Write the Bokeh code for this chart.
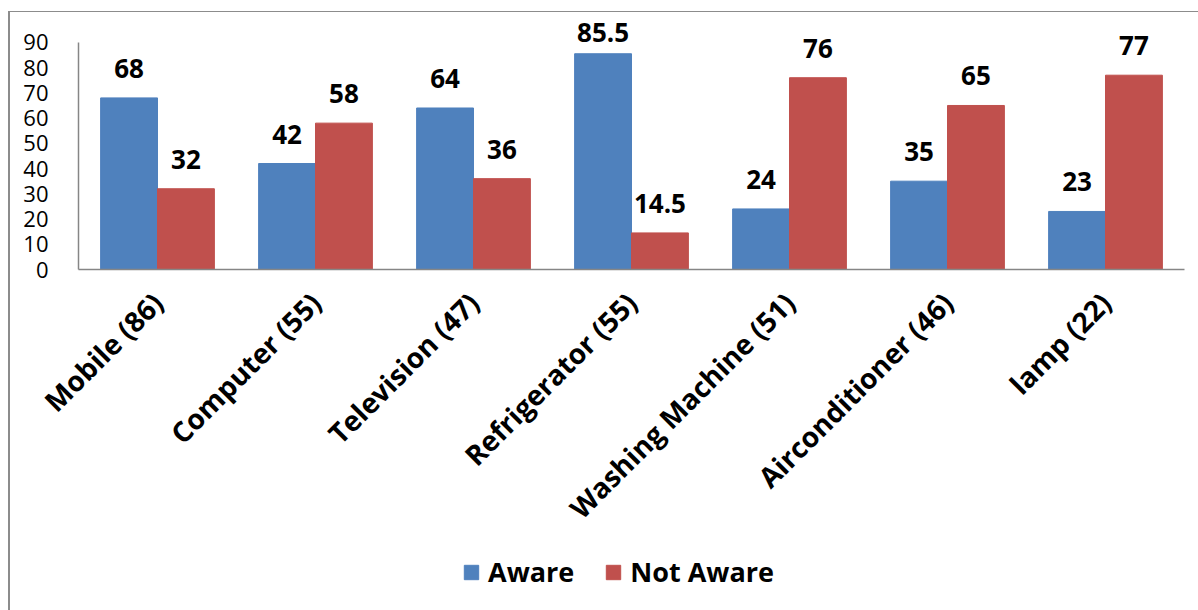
import math
from bokeh.plotting import figure
from bokeh.layouts import column
from bokeh.models import ColumnDataSource, FactorRange, Range1d, LabelSet, Legend, LegendItem, FixedTicker
from bokeh.transform import dodge
from bokeh.core.properties import value
from bokeh.embed import file_html
from bokeh.resources import INLINE

categories = ["Mobile (86)", "Computer (55)", "Television (47)", "Refrigerator (55)",
              "Washing Machine (51)", "Airconditioner (46)", "lamp (22)"]
aware = [68, 42, 64, 85.5, 24, 35, 23]
not_aware = [32, 58, 36, 14.5, 76, 65, 77]
y_ticks = [0, 10, 20, 30, 40, 50, 60, 70, 80, 90]
series_names = ["Aware", "Not Aware"]

BLUE = "#4F81BD"
RED = "#C0504D"
FONT = "Open Sans"

# frame: 0 -> y=270, 90 -> y=42 in window; frame top extended to y=12 so labels above 90 fit
PX_PER_UNIT = 228 / 90
y_top = 90 + 30 / PX_PER_UNIT
LABEL_CEIL = 227  # highest label bottom, px above the x axis (labels are kept inside the chart)


def label_offsets(vals):
    return [min(20, LABEL_CEIL - v * PX_PER_UNIT + 1) for v in vals]


src = ColumnDataSource(dict(
    cat=categories,
    aware=aware,
    not_aware=not_aware,
    aware_txt=[f"{v:g}" for v in aware],
    not_aware_txt=[f"{v:g}" for v in not_aware],
    aware_off=label_offsets(aware),
    not_aware_off=label_offsets(not_aware),
))

p = figure(x_range=FactorRange(*categories), y_range=Range1d(0, y_top),
           width=1188, height=530, output_backend="svg", toolbar_location=None,
           min_border_left=68, min_border_right=14, min_border_top=0, min_border_bottom=272)

r1 = p.vbar(x=dodge("cat", -0.18, range=p.x_range), top="aware", width=0.36, source=src,
            fill_color=BLUE, line_color=BLUE)
r2 = p.vbar(x=dodge("cat", 0.18, range=p.x_range), top="not_aware", width=0.36, source=src,
            fill_color=RED, line_color=RED)

for col, off in (("aware", -0.18), ("not_aware", 0.18)):
    p.add_layout(LabelSet(x=dodge("cat", off, range=p.x_range), y=col, text=col + "_txt",
                          source=src, text_align="center", text_baseline="bottom",
                          y_offset=col + "_off", text_font=value(FONT), text_font_style="bold",
                          text_font_size="26px", text_color="black"))

p.xgrid.visible = False
p.ygrid.visible = False
p.outline_line_color = None

p.yaxis.ticker = FixedTicker(ticks=y_ticks)
p.yaxis.bounds = (0, 90)
p.yaxis.major_tick_line_color = None
p.yaxis.minor_tick_line_color = None
p.yaxis.axis_line_color = "#868686"
p.yaxis.axis_line_width = 1.5
p.yaxis.major_label_text_font = FONT
p.yaxis.major_label_text_font_size = "22px"
p.yaxis.major_label_text_color = "black"
p.yaxis.major_label_standoff = 24

p.xaxis.major_tick_line_color = None
p.xaxis.minor_tick_line_color = None
p.xaxis.axis_line_color = "#868686"
p.xaxis.axis_line_width = 1.5
p.xaxis.major_label_orientation = math.pi / 4
p.xaxis.major_label_text_font = FONT
p.xaxis.major_label_text_font_style = "bold"
p.xaxis.major_label_text_font_size = "28px"
p.xaxis.major_label_text_color = "black"
p.xaxis.major_label_standoff = 22

# legend strip below the chart (its frame is aligned with the chart's frame by the column)
q = figure(width=1188, height=68, output_backend="svg", toolbar_location=None,
           x_axis_location=None, y_axis_location=None, min_border=0,
           x_range=Range1d(0, 1), y_range=Range1d(0, 1))
q.outline_line_color = None
q.xgrid.visible = False
q.ygrid.visible = False
# swatch renderers: their single point lies outside the visible range, only the legend shows them
l1 = q.vbar(x=[-5], top=[-5], width=0.1, fill_color=BLUE, line_color=BLUE)
l2 = q.vbar(x=[-5], top=[-5], width=0.1, fill_color=RED, line_color=RED)
legend = Legend(items=[LegendItem(label=series_names[0], renderers=[l1]),
                       LegendItem(label=series_names[1], renderers=[l2])],
                orientation="horizontal", location=(384, 20),
                glyph_width=18, glyph_height=18, label_standoff=8, spacing=30,
                padding=0, margin=0, border_line_color=None, background_fill_alpha=0,
                label_text_font=FONT, label_text_font_style="bold",
                label_text_font_size="27px", label_text_color="black")
q.add_layout(legend, "center")

layout = column(p, q, spacing=0)
layout.styles = {"border-left": "2px solid #8c8c8c", "border-top": "1px solid #8c8c8c",
                 "margin-left": "8px", "margin-top": "11px"}

open("out.html", "w").write(file_html(layout, INLINE))
